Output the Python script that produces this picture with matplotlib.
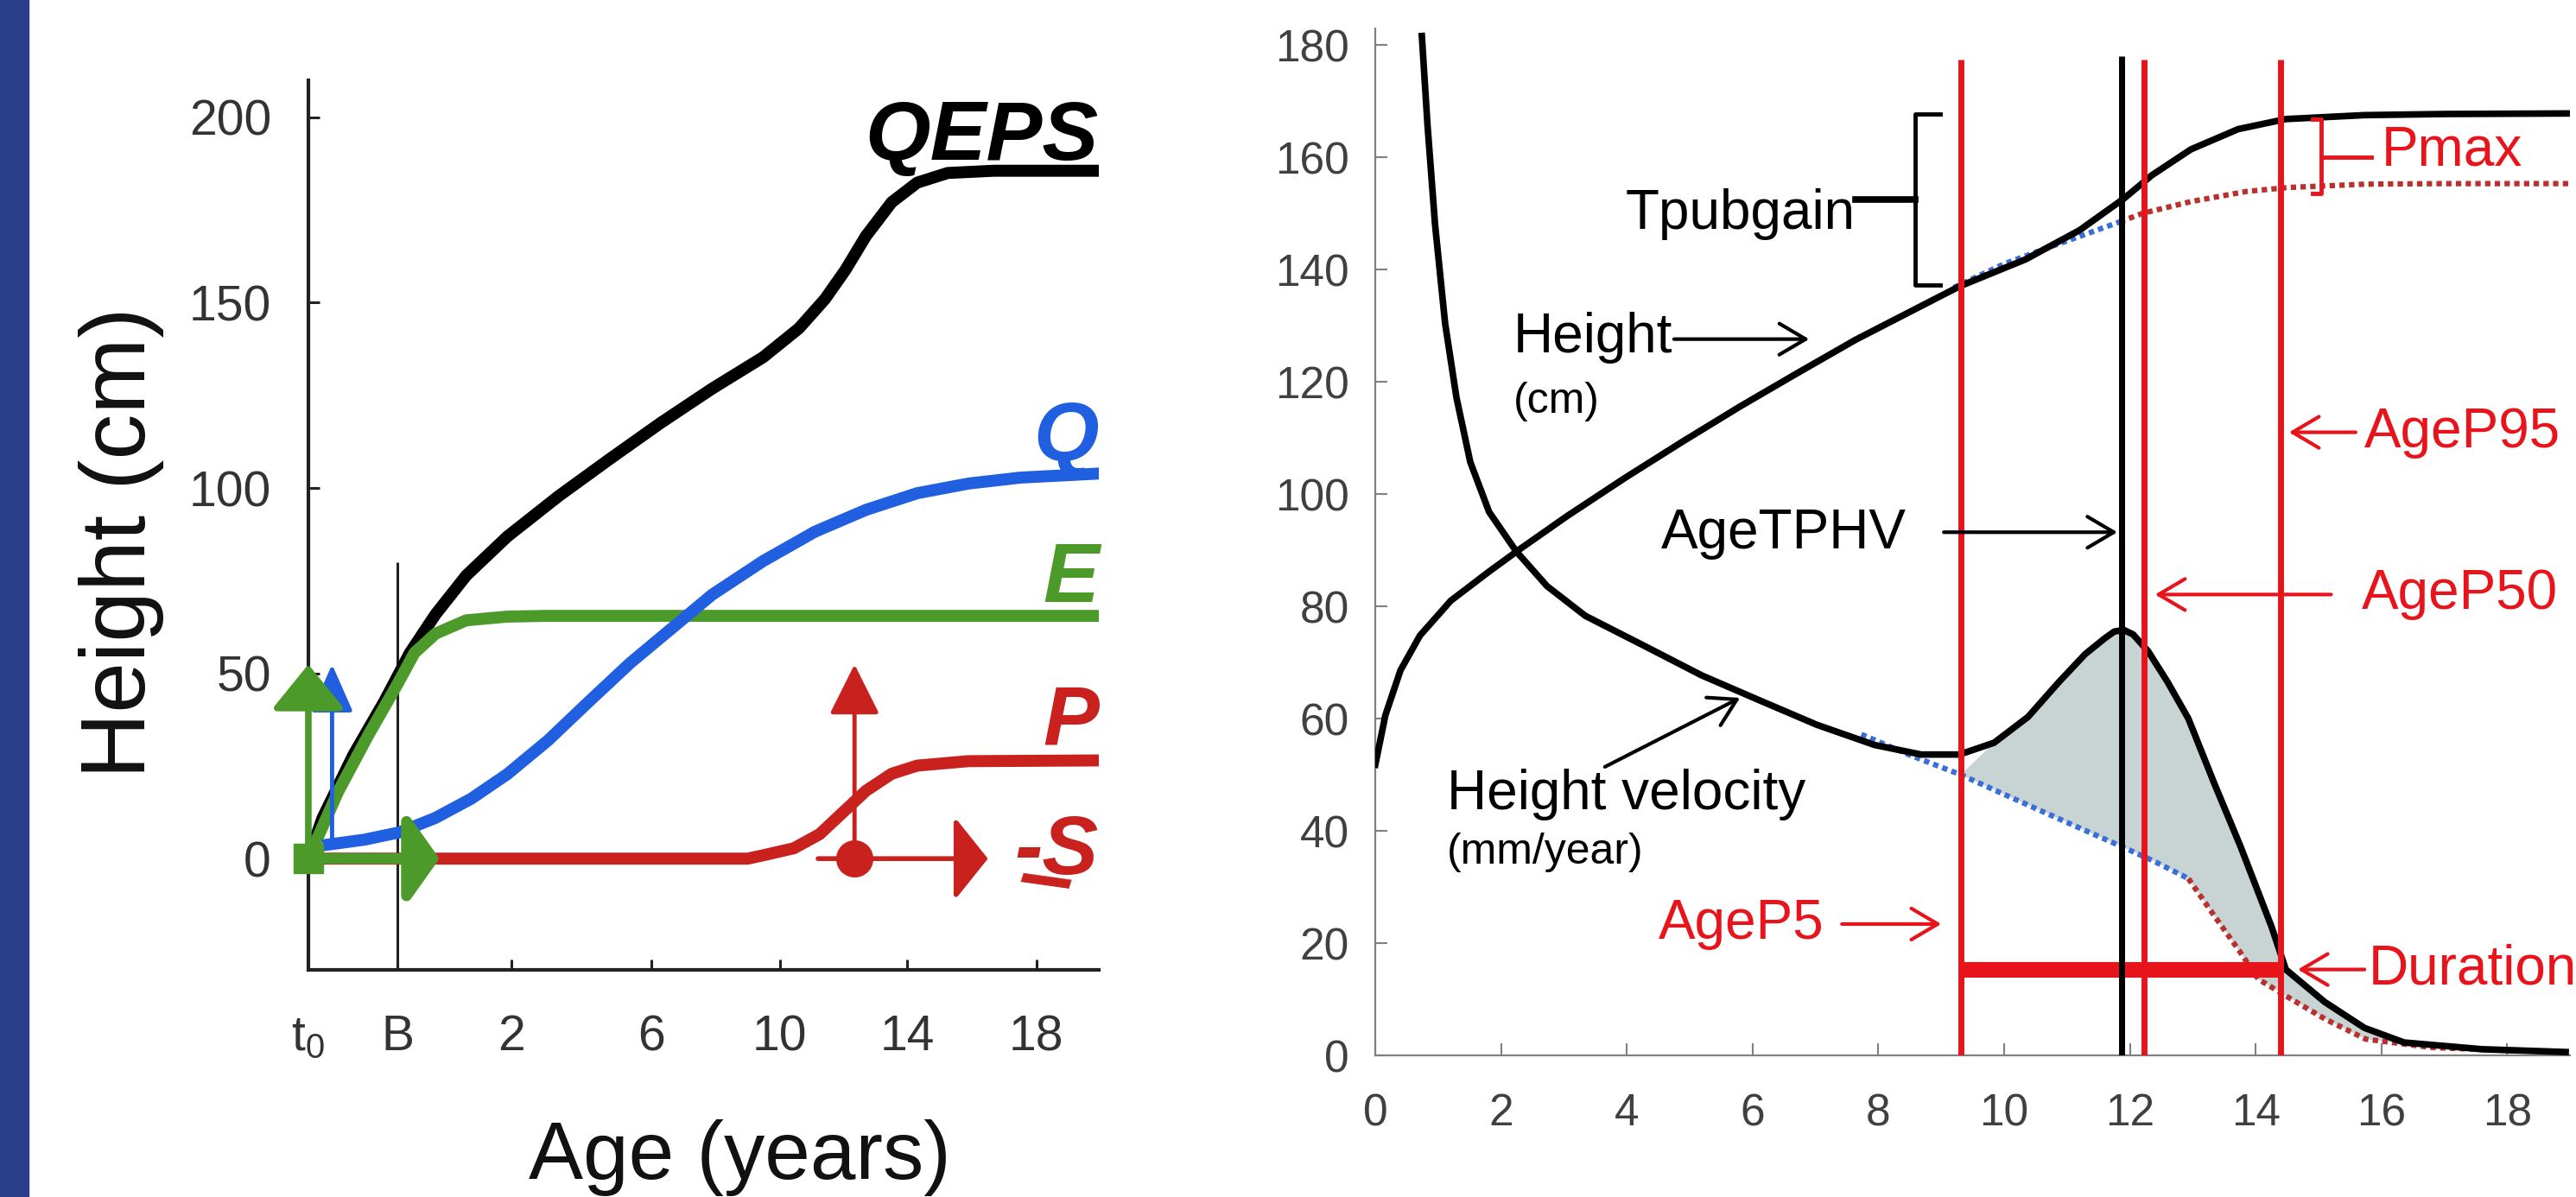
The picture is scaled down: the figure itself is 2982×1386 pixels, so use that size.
import numpy as np
import matplotlib
matplotlib.use('Agg')
import matplotlib.pyplot as plt
from matplotlib.patches import Rectangle

plt.rcParams['font.family'] = ['Liberation Sans', 'DejaVu Sans']
plt.rcParams['mathtext.default'] = 'regular'

# ---- left panel: QEPS components (age in years, height in cm) ----
qeps_age = [-0.75, -0.63, -0.37, -0.11, 0.22, 0.67, 1.21, 1.93, 3.35, 4.81, 6.3, 7.89, 9.48,
            10.6, 11.42, 12.06, 12.71, 13.52, 14.32, 15.26, 16.69, 20]
qeps_h = [0, 11, 28, 42.4, 55.5, 65.9, 76.4, 86.9, 97.8, 107.8, 117.6, 126.8, 135.3,
          143.1, 151, 158.8, 168, 177.1, 182.4, 185, 185.6, 185.6]

q_age = [-0.58, -0.28, 0.04, 0.67, 1.3, 1.93, 3.05, 4.22, 5.4, 6.62, 7.89, 9.48, 11.1, 12.71,
         14.32, 15.9, 17.5, 20]
q_h = [3.8, 5.1, 7.1, 11, 16.2, 22.8, 31.9, 42.4, 52.8, 62, 71.2, 80.3, 88.2, 94.1,
       98.6, 101.2, 102.8, 103.9]

e_age = [-0.75, -0.5, -0.25, 0, 0.3, 0.67, 1.21, 1.93, 3, 20]
e_h = [0, 18, 33, 47, 55.5, 60.7, 64.3, 65.3, 65.5, 65.5]

p_age = [-0.75, 9.0, 9.48, 10.44, 11.25, 12.06, 12.71, 13.52, 14.32, 15.9, 20]
p_h = [0, 0, 0.9, 2.8, 6.6, 13.1, 18.3, 22.9, 25.1, 26.3, 26.5]

left_ticks = [-0.75, 0, 2, 6, 10, 14, 18]
left_ticklabels = ['$t_0$', 'B', '2', '6', '10', '14', '18']
left_yticks = [0, 50, 100, 150, 200]

# the age axis of the left panel is not linear
axis_age = [-0.75, 0, 2, 6, 10, 14, 18, 20]
axis_pos = [0, 103, 235, 397, 546, 693, 843, 915]

# ---- right panel: height and height velocity ----
height_age = [0, 0.16, 0.4, 0.71, 1.2, 1.81, 2.3, 3.04, 3.96, 4.88, 5.8, 6.72, 7.64, 8.56, 9.29,
              10.34, 11.2, 11.9, 12.35, 12.97, 13.72, 14.48, 15.73, 17, 19]
height_cm = [51.8, 60.6, 68.6, 74.8, 81, 86.2, 90.2, 96, 102.8, 109.3, 115.6, 121.6, 127.5, 132.8, 137,
             141.8, 147, 152.6, 156.8, 161.4, 165, 166.8, 167.5, 167.7, 167.8]

vel_age = [0.74, 0.83, 0.95, 1.11, 1.29, 1.51, 1.81, 2.24, 2.73, 3.34, 4.27, 5.19, 6.1, 7.02, 7.94,
           8.68, 9.29, 9.84, 10.38, 10.87, 11.29, 11.6, 11.75, 11.9, 12.05, 12.29, 12.6, 12.93,
           13.34, 13.76, 14.25, 14.48, 15.1, 15.73, 16.36, 17.6, 18.93]
vel_mm = [181.6, 165.7, 148, 130.4, 117.2, 105.7, 96.8, 89.8, 83.6, 78.3, 73, 67.7, 63.3, 58.9, 55.3,
          53.6, 53.6, 55.7, 60.3, 66.5, 71.5, 74.3, 75.5, 75.8, 75, 72, 66.5, 60,
          48.5, 37.2, 23, 15.3, 9.5, 4.9, 2.3, 1.1, 0.6]

# prepubertal (blue) and pubertal-off (red) dotted curves
hbase_blue_age = [9.2, 10.0, 10.7, 11.3, 11.84]
hbase_blue = [136.8, 141, 143.9, 146.3, 148.5]
hbase_red_age = [11.84, 12.2, 12.97, 13.85, 14.5, 15.73, 17, 19]
hbase_red = [148.5, 150, 152.1, 153.9, 154.6, 155.2, 155.3, 155.3]

vbase_blue_age = [7.73, 8.5, 9.31, 10.0, 11.0, 11.87, 12.4, 12.93]
vbase_blue = [57.2, 53.5, 50, 46.5, 41.5, 37.2, 34.5, 31.5]
vbase_red_age = [12.93, 13.34, 13.76, 14.04, 14.48, 15.1, 15.75, 16.8, 18.2]
vbase_red = [31.5, 24.9, 18.3, 13.6, 10.6, 6.5, 2.9, 1.4, 0.8]

age_p5, age_tphv, age_p50, age_p95 = 9.31, 11.87, 12.22, 14.4
duration_level = 15.3

red = '#E8141C'
dark_red = '#C9211E'
green = '#4C9A2A'
blue = '#1F5FE0'

fig = plt.figure(figsize=(29.82, 13.86), dpi=100)
fig.patches.append(Rectangle((0, 0), 33 / 2982, 1, transform=fig.transFigure, color='#2B3E8C', zorder=0))

# ================= left panel =================
axL = fig.add_axes([0.1197, 0.1898, 0.3068, 0.7431])
axL.set_xscale('function', functions=(lambda a: np.interp(a, axis_age, axis_pos),
                                      lambda p: np.interp(p, axis_pos, axis_age)))
axL.set_xlim(-0.75, 20)
axL.set_ylim(-30, 210)
for s in ['top', 'right']:
    axL.spines[s].set_visible(False)
for s in ['left', 'bottom']:
    axL.spines[s].set_linewidth(3)
    axL.spines[s].set_color('#222222')
axL.set_xticks(left_ticks)
axL.set_xticklabels(left_ticklabels)
axL.set_yticks(left_yticks)
axL.tick_params(axis='both', direction='in', length=9, width=2.2, color='#222222',
                labelsize=41, labelcolor='#333333')
axL.tick_params(axis='x', pad=37)
axL.tick_params(axis='y', pad=31)

axL.vlines(0, -30, 80, color='#222222', lw=2.2, zorder=2)

lw = 10
axL.plot(qeps_age, qeps_h, color='black', lw=lw, zorder=3, solid_joinstyle='round')
axL.plot(e_age, e_h, color=green, lw=lw, zorder=4, solid_joinstyle='round')
axL.plot(q_age, q_h, color=blue, lw=lw, zorder=5, solid_joinstyle='round')
axL.plot(p_age, p_h, color=dark_red, lw=lw, zorder=4, solid_joinstyle='round')

def fat_arrow(ax, tail, tip, color, lw, hl, hw, z):
    ax.annotate('', xy=tip, xytext=tail,
                arrowprops=dict(arrowstyle='-|>,head_length=%g,head_width=%g' % (hl, hw),
                                color=color, lw=lw, shrinkA=0, shrinkB=0, mutation_scale=1),
                zorder=z, annotation_clip=False)

fat_arrow(axL, (-0.55, 3.8), (-0.55, 52.4), blue, 3.5, 34, 15, 6)
fat_arrow(axL, (-0.75, 0), (-0.75, 52.4), green, 5.5, 32, 26, 7)
fat_arrow(axL, (-0.75, 0), (0.74, 0), green, 9, 22, 31, 7)
axL.plot([-0.75], [0], marker='s', ms=25, color=green, zorder=8, clip_on=False)
fat_arrow(axL, (12.35, 0), (12.35, 52.4), dark_red, 3.5, 36, 18, 7)
fat_arrow(axL, (11.2, 0), (16.5, 0), dark_red, 4, 24, 30, 7)
axL.plot([12.35], [0], marker='o', ms=30, color=dark_red, zorder=8)

lab = dict(fontsize=70, fontweight='bold', fontstyle='italic', ha='right', va='baseline')
axL.text(20, 188.6, 'QEPS', color='black', **lab)
axL.text(20, 107.5, 'Q', color=blue, **lab)
axL.text(20, 69.2, 'E', color=green, **lab)
axL.text(20, 31, 'P', color=dark_red, **lab)
axL.text(20, -4.2, '-S', color=dark_red, **lab)
axL.text(18.3, -14, '\u2013', color=dark_red, fontsize=82, fontweight='bold',
         fontstyle='italic', ha='center', va='baseline', rotation=-8)

fig.text(0.047, 0.547, 'Height (cm)', fontsize=76, rotation=90, ha='center', va='center', color='#111111')
fig.text(856 / 2982, 0.0152, 'Age (years)', fontsize=68, ha='center', va='baseline', color='#111111')

# ================= right panel =================
axR = fig.add_axes([0.5339, 0.1183, 0.4638, 0.8582])
axR.set_xlim(0, 19)
axR.set_ylim(0, 183)
for s in ['top', 'right']:
    axR.spines[s].set_visible(False)
for s in ['left', 'bottom']:
    axR.spines[s].set_linewidth(1.6)
    axR.spines[s].set_color('#808080')
axR.set_xticks(range(0, 19, 2))
axR.set_yticks(range(0, 181, 20))
axR.tick_params(axis='both', direction='in', length=10, width=1.5, color='#808080',
                labelsize=37, labelcolor='#404040')
axR.tick_params(axis='x', pad=31)
axR.tick_params(axis='y', pad=22)

# shaded pubertal velocity component
va = np.array(vel_age)
vm = np.array(vel_mm)
base_age = np.array(vbase_blue_age + vbase_red_age[1:])
base_v = np.array(vbase_blue + vbase_red[1:])
sel_v = (va >= age_p5) & (va <= 16.4)
sel_b = (base_age >= age_p5) & (base_age <= 16.8)
axR.fill(np.r_[va[sel_v], base_age[sel_b][::-1]], np.r_[vm[sel_v], base_v[sel_b][::-1]],
         color='#C8D3D3', lw=0, zorder=1)

dot = (0, (1, 0.8))
axR.plot(hbase_blue_age, hbase_blue, color='#3A6FD8', lw=4.5, ls=dot, zorder=2)
axR.plot(hbase_red_age, hbase_red, color='#B8312F', lw=4.5, ls=dot, zorder=2)
axR.plot(vbase_blue_age, vbase_blue, color='#3A6FD8', lw=4.5, ls=dot, zorder=2)
axR.plot(vbase_red_age, vbase_red, color='#B8312F', lw=4.5, ls=dot, zorder=2)

axR.plot(height_age, height_cm, color='black', lw=5.5, zorder=3, solid_joinstyle='round')
axR.plot(vel_age, vel_mm, color='black', lw=5.5, zorder=3, solid_joinstyle='round')

axR.hlines(duration_level, age_p5, age_p95, color=red, lw=13, zorder=4)
axR.vlines([age_p5, age_p50, age_p95], 0, 177.4, color=red, lw=5, zorder=5)
axR.vlines(age_tphv, 0, 178, color='black', lw=5, zorder=6)

# Tpubgain bracket and Pmax bracket
axR.plot([8.98, 8.59, 8.59, 8.98], [167.7, 167.7, 137.3, 137.3], color='black', lw=3.5,
         solid_joinstyle='round', zorder=6)
axR.plot([7.64, 8.59], [152.5, 152.5], color='black', lw=5.5, zorder=6)
axR.plot([14.9, 15.04, 15.04, 14.9], [166.8, 166.8, 153.6, 153.6], color=red, lw=3.5,
         solid_joinstyle='round', zorder=6)
axR.plot([15.04, 15.84], [160, 160], color=red, lw=3.5, zorder=6)

def thin_arrow(ax, tail, tip, color):
    ax.annotate('', xy=tip, xytext=tail,
                arrowprops=dict(arrowstyle='->,head_length=22,head_width=13', color=color, lw=3,
                                shrinkA=0, shrinkB=0, mutation_scale=1),
                zorder=7, annotation_clip=False)

big = 46
small = 36
axR.text(3.98, 149.8, 'Tpubgain', fontsize=big, color='black', va='center')
axR.text(2.2, 127.8, 'Height', fontsize=big, color='black', va='center')
axR.text(2.2, 116.5, '(cm)', fontsize=small, color='black', va='center')
thin_arrow(axR, (4.75, 127.6), (6.9, 127.6), 'black')
axR.text(4.54, 93, 'AgeTPHV', fontsize=big, color='black', va='center')
thin_arrow(axR, (9.04, 93.2), (11.8, 93.2), 'black')
axR.text(1.14, 46.5, 'Height velocity', fontsize=big, color='black', va='center')
axR.text(1.14, 36.2, '(mm/year)', fontsize=small, color='black', va='center')
thin_arrow(axR, (3.65, 51.4), (5.8, 63.7), 'black')

axR.text(4.5, 23.4, 'AgeP5', fontsize=big, color=red, va='center')
thin_arrow(axR, (7.42, 23.4), (9.0, 23.4), red)
axR.text(15.73, 111, 'AgeP95', fontsize=big, color=red, va='center')
thin_arrow(axR, (15.59, 111), (14.53, 111), red)
axR.text(15.68, 82.1, 'AgeP50', fontsize=big, color=red, va='center')
thin_arrow(axR, (15.2, 82.1), (12.4, 82.1), red)
axR.text(15.8, 15.3, 'Duration', fontsize=big, color=red, va='center', clip_on=False)
thin_arrow(axR, (15.73, 15.3), (14.67, 15.3), red)
axR.text(16.0, 161.2, 'Pmax', fontsize=big, color=red, va='center')

fig.savefig('out.png', dpi=100)
